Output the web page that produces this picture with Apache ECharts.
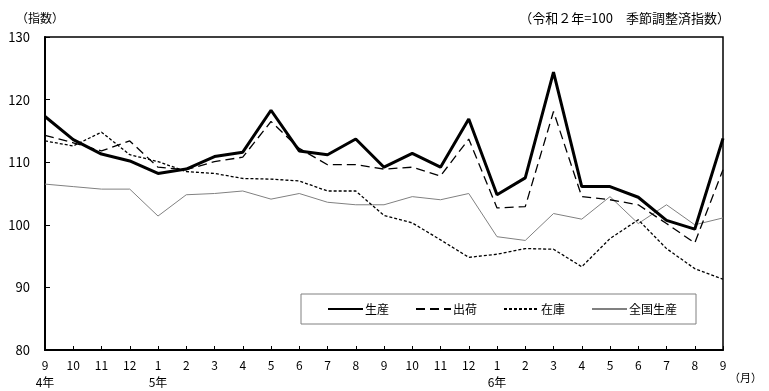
<!DOCTYPE html>
<html><head><meta charset="utf-8">
<script src="https://cdn.jsdelivr.net/npm/echarts@6/dist/echarts.min.js"></script>
<style>html,body{margin:0;padding:0;background:#fff}#c{width:769px;height:391px}</style>
</head><body><div id="c"></div>
<script>
const months = ['9','10','11','12','1','2','3','4','5','6','7','8','9','10','11','12','1','2','3','4','5','6','7','8','9'];
const yearLabels = ['4年','','','','5年','','','','','','','','','','','','6年','','','','','','','',''];
const seisan = [117.3,113.6,111.3,110.2,108.2,108.9,110.9,111.6,118.3,111.8,111.2,113.7,109.2,111.4,109.2,116.9,104.8,107.5,124.4,106.1,106.1,104.4,100.7,99.3,113.8];
const shukka = [114.3,113.1,111.8,113.4,109.2,108.8,110.1,110.8,116.5,112.2,109.6,109.6,108.9,109.2,107.8,113.7,102.7,102.9,118.1,104.5,104.0,103.2,100.2,97.1,108.8];
const zaiko  = [113.4,112.6,114.8,111.2,110.1,108.5,108.2,107.4,107.3,107.0,105.4,105.4,101.5,100.3,97.6,94.8,95.3,96.2,96.1,93.3,97.8,100.8,96.2,93.0,91.3];
const zenkoku= [106.5,106.1,105.7,105.7,101.4,104.8,105.0,105.4,104.1,105.0,103.6,103.2,103.2,104.5,104.0,105.0,98.1,97.5,101.8,100.9,104.5,100.2,103.2,100.0,101.1];
const yTicks = [80,90,100,110,120,130];

const font = "'Noto Sans CJK JP', sans-serif";
const chart = echarts.init(document.getElementById('c'), null, {renderer:'canvas'});
chart.setOption({
  animation:false,
  textStyle:{fontFamily:font,color:'#000'},
  grid:{left:45,right:46,top:37,bottom:41,show:true,borderColor:'#000',borderWidth:1.5,backgroundColor:'transparent'},
  legend:{
    left:301, top:294, orient:'horizontal',
    padding:[9,19,9,26], itemGap:26, itemWidth:35, itemHeight:14,
    borderColor:'#808080', borderWidth:1, backgroundColor:'#fff',
    itemStyle:{opacity:0, borderWidth:0},
    textStyle:{fontFamily:font,fontSize:12,color:'#000',padding:[0,0,0,-3]},
    data:['生産','出荷','在庫','全国生産']
  },
  xAxis:{
    type:'category', data:months, boundaryGap:false,
    axisLine:{lineStyle:{color:'#000',width:2}},
    axisTick:{inside:true,length:4,alignWithLabel:true,lineStyle:{color:'#000'}},
    axisLabel:{
      interval:0, margin:7, fontSize:12, color:'#000', fontFamily:font, lineHeight:17,
      formatter:function(v,i){ return yearLabels[i] ? v + '\n' + yearLabels[i] : v; }
    }
  },
  yAxis:{
    type:'value', min:yTicks[0], max:yTicks[yTicks.length-1], interval:10,
    axisLine:{show:true,lineStyle:{color:'#000',width:2}},
    axisTick:{show:true,inside:true,length:5,lineStyle:{color:'#000'}},
    splitLine:{show:false},
    axisLabel:{margin:15,fontSize:13,color:'#000',fontFamily:font}
  },
  graphic:[
    {type:'text',left:16,top:12,style:{text:'（指数）',font:"12px "+font,fill:'#000'}},
    {type:'text',right:39,top:12,style:{text:'（令和２年=100　季節調整済指数）',font:"13px "+font,fill:'#000'}},
    {type:'text',left:729,top:372,style:{text:'（月）',font:"11px "+font,fill:'#000'}}
  ],
  series:[
    {name:'生産',type:'line',data:seisan,symbol:'none',z:5,lineStyle:{color:'#000',width:3},itemStyle:{color:'#000'}},
    {name:'出荷',type:'line',data:shukka,symbol:'none',z:4,lineStyle:{color:'#000',width:1.3,type:[9,5]},itemStyle:{color:'#000'}},
    {name:'在庫',type:'line',data:zaiko,symbol:'none',z:3,lineStyle:{color:'#000',width:1.3,type:[3,2]},itemStyle:{color:'#000'}},
    {name:'全国生産',type:'line',data:zenkoku,symbol:'none',z:2,lineStyle:{color:'#808080',width:1},itemStyle:{color:'#808080'}}
  ]
});
</script></body></html>
